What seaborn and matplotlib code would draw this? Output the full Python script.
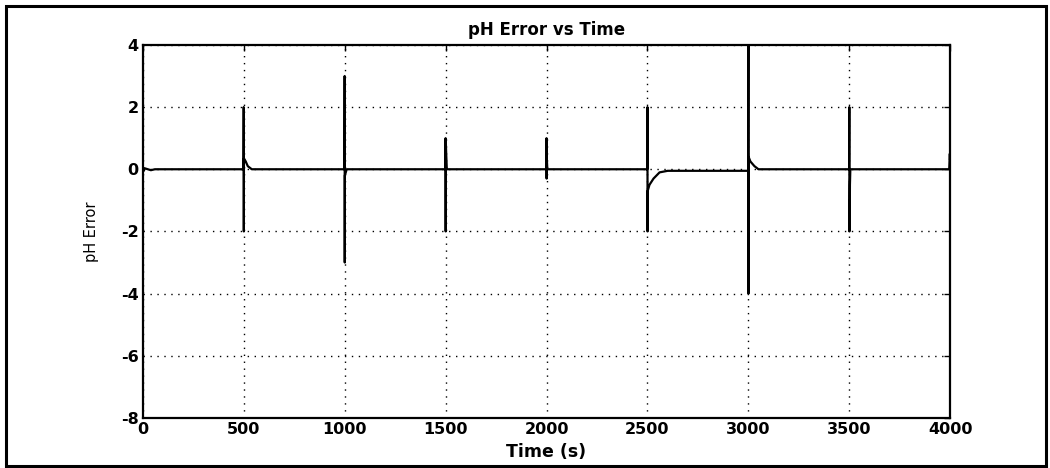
import matplotlib
matplotlib.use("Agg")
import matplotlib.pyplot as plt
import seaborn as sns
import pandas as pd
from matplotlib.patches import Rectangle

# Breakpoints of the pH error trace (time in s, error in pH units)
time_s = [0, 2, 5, 10, 40, 60,
          499, 500, 500.5, 501, 510, 520, 540,
          999, 1000, 1000.5, 1001, 1010,
          1499, 1500, 1500.5, 1501, 1503, 1506,
          1999, 2000, 2000.5, 2001, 2004,
          2499, 2500, 2500.5, 2501, 2510, 2530, 2560, 2600,
          2999, 3000, 3000.5, 3001, 3010, 3030, 3050,
          3499, 3500, 3500.5, 3501, 3502, 3503, 3505,
          3995, 3998, 3999, 4000]
ph_error = [0, 0.05, -0.05, 0.03, -0.03, 0,
            0, 2.0, -2.0, 0.35, 0.25, 0.1, 0,
            0, 3.0, -3.0, -0.2, 0,
            0, 1.0, -2.0, 0.9, 0.5, 0,
            0, 1.0, -0.3, 0.4, 0,
            0, 2.0, -2.0, -0.7, -0.5, -0.3, -0.1, -0.05,
            -0.05, 4.0, -4.0, 0.4, 0.25, 0.1, 0,
            0, 2.0, -2.0, -1.0, -1.8, -0.5, 0,
            0, 0.5, 0.3, 0.5]

x_ticks = [0, 500, 1000, 1500, 2000, 2500, 3000, 3500, 4000]
y_ticks = [-8, -6, -4, -2, 0, 2, 4]

df = pd.DataFrame({"Time (s)": time_s, "pH Error": ph_error})

sns.set_theme(style="white")
plt.rcParams["font.family"] = ["DejaVu Sans"]
plt.rcParams["axes.unicode_minus"] = False

fig = plt.figure(figsize=(10.5, 4.68), dpi=100)
ax = fig.add_axes([0.136, 0.107, 0.769, 0.797])

sns.lineplot(data=df, x="Time (s)", y="pH Error", ax=ax, color="black",
             linewidth=1.6, estimator=None, sort=False)

ax.set_xlim(0, 4000)
ax.set_ylim(-8, 4)
ax.set_xticks(x_ticks)
ax.set_yticks(y_ticks)
ax.set_xticklabels([str(v) for v in x_ticks])
ax.set_yticklabels([str(v) for v in y_ticks])

ax.grid(True, color="black", linestyle=(0, (1, 4)), linewidth=1.0)
for s in ax.spines.values():
    s.set_color("black")
    s.set_linewidth(1.6)
ax.tick_params(direction="in", length=4, width=1, colors="black",
               labelsize=11.5, top=True, right=True, pad=3)
for lbl in ax.get_xticklabels() + ax.get_yticklabels():
    lbl.set_fontweight("bold")

ax.set_title("pH Error vs Time", fontsize=12, fontweight="bold",
             color="black", pad=7)
ax.set_xlabel("Time (s)", fontsize=12.5, fontweight="bold",
              color="black", labelpad=4)
ax.set_ylabel("pH Error", fontsize=10.5, color="black", labelpad=16)

# Outer frame around the whole figure
fig.patches.append(Rectangle((0.006, 0.004), 0.990, 0.983, transform=fig.transFigure,
                             fill=False, edgecolor="black", linewidth=2.2))

fig.savefig("out.png", dpi=100)
